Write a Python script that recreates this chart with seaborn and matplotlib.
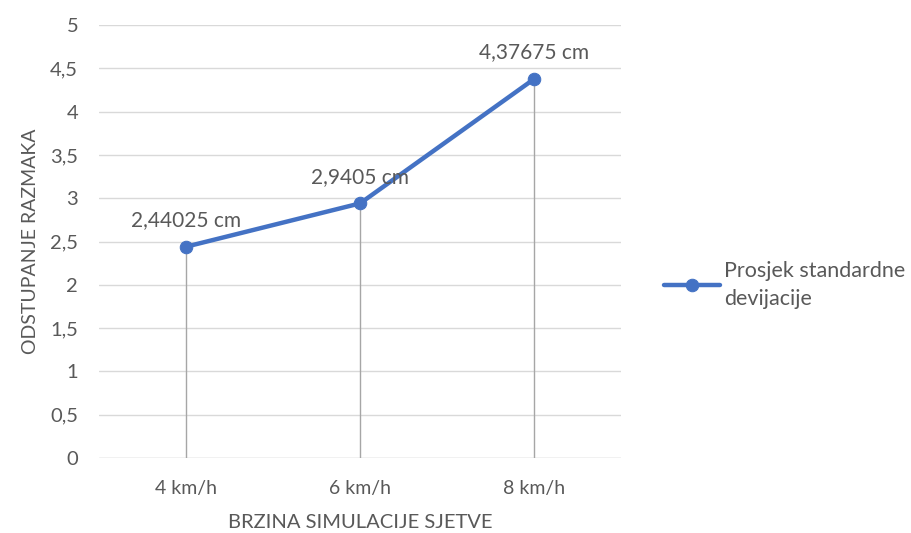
import matplotlib
matplotlib.use("Agg")
import matplotlib.pyplot as plt
import seaborn as sns
import pandas as pd

# data
speeds = ['4 km/h', '6 km/h', '8 km/h']
std_avg = [2.44025, 2.9405, 4.37675]
point_labels = ['2,44025 cm', '2,9405 cm', '4,37675 cm']
series_name = 'Prosjek standardne\ndevijacije'
yticks = [0, 0.5, 1, 1.5, 2, 2.5, 3, 3.5, 4, 4.5, 5]

df = pd.DataFrame({'speed': speeds, 'value': std_avg})
df['pos'] = range(len(df))

sns.set_style('white')
plt.rcParams['font.family'] = ['Lato', 'DejaVu Sans']

blue = '#4472C4'
grey_txt = '#595959'

fig = plt.figure(figsize=(9.12, 5.33), dpi=100)
ax = fig.add_axes([0.1086, 0.1407, 0.5724, 0.8123])

# drop lines down to the axis
ax.vlines(df['pos'], 0, df['value'], color='#a6a6a6', lw=1, zorder=2)

sns.lineplot(data=df, x='pos', y='value', ax=ax, color=blue, lw=3.2,
             marker='o', markersize=9, markeredgecolor=blue,
             label=series_name, zorder=3)

for x, y, t in zip(df['pos'], df['value'], point_labels):
    ax.annotate(t, (x, y), xytext=(0, 12), textcoords='offset points',
                ha='center', va='bottom', fontsize=15, color=grey_txt)

ax.set_xlim(-0.5, 2.5)
ax.set_ylim(0, 5)
ax.set_yticks(yticks)
ax.set_yticklabels([('%g' % v).replace('.', ',') for v in yticks])
ax.set_xticks(df['pos'])
ax.set_xticklabels(speeds)
ax.yaxis.grid(True, color='#d9d9d9', lw=1)
ax.set_axisbelow(True)
for s in ax.spines.values():
    s.set_visible(False)
ax.axhline(0, color='#d9d9d9', lw=1, zorder=1)
ax.tick_params(axis='y', length=0, labelsize=14.5, colors=grey_txt, pad=15)
ax.tick_params(axis='x', length=0, labelsize=14, colors=grey_txt, pad=16)

ax.set_xlabel('BRZINA SIMULACIJE SJETVE', fontsize=14.5, color=grey_txt, labelpad=12)
ax.set_ylabel('ODSTUPANJE RAZMAKA', fontsize=14, color=grey_txt, labelpad=8)

leg = ax.legend(loc='center left', bbox_to_anchor=(1.045, 0.40), frameon=False,
                fontsize=15.5, handlelength=2.6, handletextpad=0.2)
for t in leg.get_texts():
    t.set_color(grey_txt)
    t.set_linespacing(1.5)

fig.savefig('out.png', dpi=100)
